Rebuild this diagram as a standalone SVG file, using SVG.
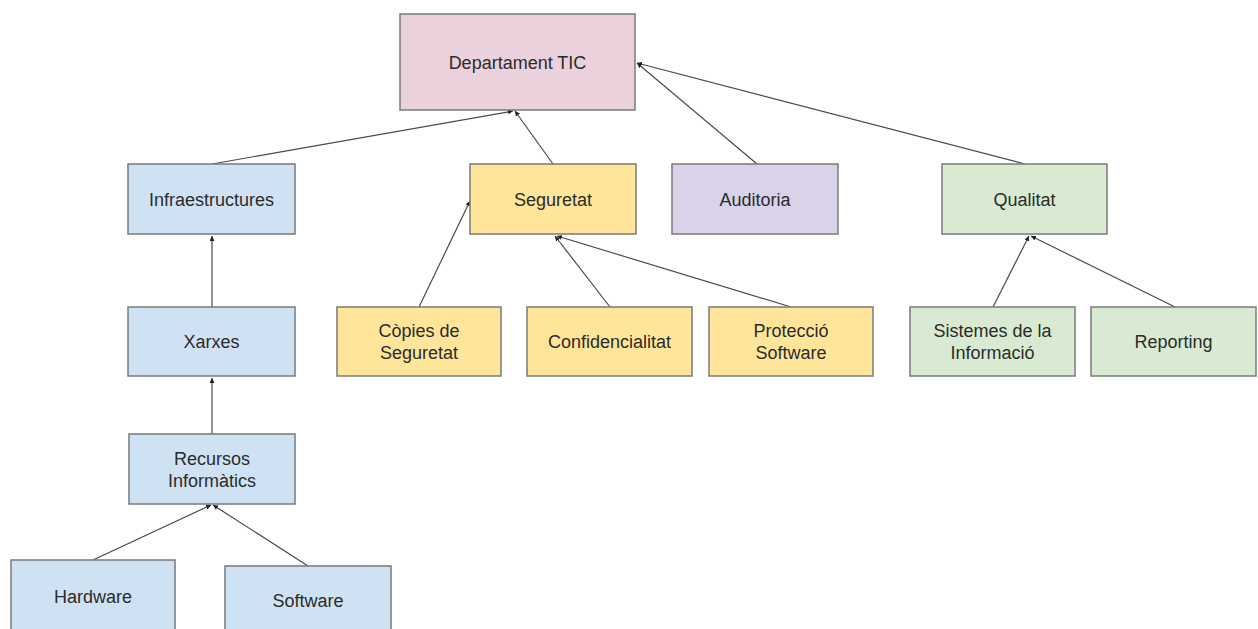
<svg xmlns="http://www.w3.org/2000/svg" width="1258" height="629" viewBox="0 0 1258 629">
<style>
  .box { stroke: #7a7a7a; stroke-width: 1.5; }
  .pink { fill: #ead1dc; }
  .blue { fill: #cfe2f3; }
  .yellow { fill: #ffe599; }
  .purple { fill: #d9d2e9; }
  .green { fill: #d9ead3; }
  text { font-family: "Liberation Sans", Arial, sans-serif; font-size: 18px; fill: #2b2b2b; text-anchor: middle; }
  .edge { stroke: #4a4a4a; stroke-width: 1.2; fill: none; marker-end: url(#arr); }
</style>
<defs>
  <marker id="arr" markerUnits="userSpaceOnUse" markerWidth="6" markerHeight="5" refX="5" refY="2.5" orient="auto">
    <path d="M0,0 L5,2.5 L0,5 z" fill="#222"/>
  </marker>
</defs>
<rect width="1258" height="629" fill="#ffffff"/>
<g id="connectors">
  <line class="edge" x1="212" y1="164" x2="513" y2="111"/>
  <line class="edge" x1="553" y1="164" x2="515" y2="111"/>
  <line class="edge" x1="757" y1="164" x2="637" y2="63"/>
  <line class="edge" x1="1025" y1="164" x2="637" y2="63"/>
  <line class="edge" x1="212" y1="307" x2="212" y2="236"/>
  <line class="edge" x1="212" y1="434" x2="212" y2="378"/>
  <line class="edge" x1="93" y1="560" x2="211" y2="505"/>
  <line class="edge" x1="308" y1="566" x2="213" y2="505"/>
  <line class="edge" x1="419" y1="307" x2="470" y2="201"/>
  <line class="edge" x1="610" y1="307" x2="555" y2="236"/>
  <line class="edge" x1="791" y1="307" x2="557" y2="236"/>
  <line class="edge" x1="993" y1="307" x2="1029" y2="236"/>
  <line class="edge" x1="1175" y1="307" x2="1031" y2="236"/>
</g>
<g id="dept"><rect class="box pink" x="400" y="14" width="235" height="96"/><text x="517.5" y="68.5">Departament TIC</text></g>
<g id="infra"><rect class="box blue" x="128" y="164" width="167" height="70"/><text x="211.5" y="205.5">Infraestructures</text></g>
<g id="seguretat"><rect class="box yellow" x="470" y="164" width="166" height="70"/><text x="553" y="205.5">Seguretat</text></g>
<g id="auditoria"><rect class="box purple" x="672" y="164" width="166" height="70"/><text x="755" y="205.5">Auditoria</text></g>
<g id="qualitat"><rect class="box green" x="942" y="164" width="165" height="70"/><text x="1024.5" y="205.5">Qualitat</text></g>
<g id="xarxes"><rect class="box blue" x="128" y="307" width="167" height="69"/><text x="211.5" y="348">Xarxes</text></g>
<g id="copies"><rect class="box yellow" x="337" y="307" width="164" height="69"/><text x="419" y="337">Còpies de</text><text x="419" y="359">Seguretat</text></g>
<g id="confidencialitat"><rect class="box yellow" x="527" y="307" width="165" height="69"/><text x="609.5" y="348">Confidencialitat</text></g>
<g id="proteccio"><rect class="box yellow" x="709" y="307" width="164" height="69"/><text x="791" y="337">Protecció</text><text x="791" y="359">Software</text></g>
<g id="sistemes"><rect class="box green" x="910" y="307" width="165" height="69"/><text x="992.5" y="337">Sistemes de la</text><text x="992.5" y="359">Informació</text></g>
<g id="reporting"><rect class="box green" x="1091" y="307" width="165" height="69"/><text x="1173.5" y="348">Reporting</text></g>
<g id="recursos"><rect class="box blue" x="129" y="434" width="166" height="70"/><text x="212" y="465">Recursos</text><text x="212" y="487">Informàtics</text></g>
<g id="hardware"><rect class="box blue" x="11" y="560" width="164" height="80"/><text x="93" y="603">Hardware</text></g>
<g id="software"><rect class="box blue" x="225" y="566" width="166" height="80"/><text x="308" y="607">Software</text></g>
</svg>
